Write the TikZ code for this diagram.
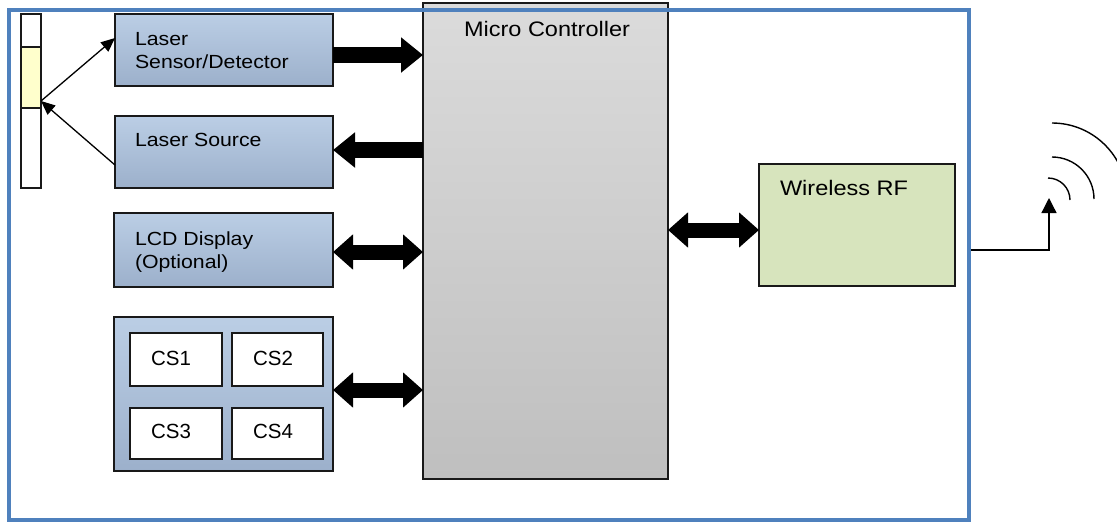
\documentclass[tikz,border=0pt]{standalone}
\usepackage{fontspec}
\setmainfont{Liberation Sans}[FakeStretch=1.12]
\newfontfamily\csfont{Liberation Sans}
\usetikzlibrary{arrows.meta}
\definecolor{frameblue}{RGB}{79,129,189}
\definecolor{boxtop}{RGB}{187,206,229}
\definecolor{boxbot}{RGB}{156,176,203}
\definecolor{mctop}{RGB}{219,219,219}
\definecolor{mcbot}{RGB}{191,191,191}
\definecolor{rfgreen}{RGB}{215,228,189}
\definecolor{barYellow}{RGB}{255,255,204}
\tikzset{
  box/.style={draw=black!90, line width=1.6pt, inner sep=0pt, outer sep=0pt, anchor=north west},
  bluebox/.style={box, top color=boxtop, bottom color=boxbot},
  csbox/.style={box, fill=white},
  lbl/.style={inner sep=0pt, outer sep=0pt, anchor=base west, align=left, font=\fontsize{19pt}{23.3pt}\selectfont},
  biglbl/.style={inner sep=0pt, outer sep=0pt, anchor=base, font=\fontsize{21pt}{25pt}\selectfont},
  cslbl/.style={inner sep=0pt, outer sep=0pt, anchor=base, font=\csfont\fontsize{20.5pt}{24pt}\selectfont},
  fat/.style={line width=15.5pt, -{Triangle[width=34pt,length=22pt]}},
  fatboth/.style={line width=15pt, {Triangle[width=34pt,length=20pt]}-{Triangle[width=34pt,length=20pt]}},
  thin/.style={line width=1.3pt, -{Triangle[width=12pt,length=14pt]}},
}
\begin{document}
\begin{tikzpicture}[x=1pt,y=-1pt]
\useasboundingbox (0,0) rectangle (1117,523);
\clip (0,0) rectangle (1117,523);
% Micro controller
\node[box, top color=mctop, bottom color=mcbot, minimum width=245pt, minimum height=476pt] (mc) at (423,3) {};
\node[biglbl] (mctext) at (547,36.5) {Micro Controller};
% left bar
\node[box, fill=white, line width=1.3pt, minimum width=20pt, minimum height=174pt] (bar) at (21,14) {};
\node[box, fill=barYellow, line width=1.3pt, minimum width=20pt, minimum height=61pt] (yel) at (21,47) {};
% blue boxes
\node[bluebox, minimum width=218pt, minimum height=72pt] (sensor) at (115,14) {};
\node[lbl] (sensortext) at (135,68.3) {Laser\\Sensor/Detector};
\node[bluebox, minimum width=218pt, minimum height=72pt] (source) at (115,116) {};
\node[lbl] (sourcetext) at (135,146) {Laser Source};
\node[bluebox, minimum width=219pt, minimum height=74pt] (lcd) at (114,213) {};
\node[lbl] (lcdtext) at (135,268.3) {LCD Display\\(Optional)};
\node[bluebox, minimum width=219pt, minimum height=154pt] (cs) at (114,317) {};
\node[csbox, minimum width=92pt, minimum height=53pt] (cs1) at (130,333) {};
\node[csbox, minimum width=91pt, minimum height=53pt] (cs2) at (232,333) {};
\node[csbox, minimum width=92pt, minimum height=51pt] (cs3) at (130,408) {};
\node[csbox, minimum width=91pt, minimum height=51pt] (cs4) at (232,408) {};
\node[cslbl] (cs1t) at (171,365) {CS1};
\node[cslbl] (cs2t) at (273,365) {CS2};
\node[cslbl] (cs3t) at (171,438) {CS3};
\node[cslbl] (cs4t) at (273,438) {CS4};
% wireless
\node[box, fill=rfgreen, minimum width=196pt, minimum height=122pt] (rf) at (759,164) {};
\node[biglbl, anchor=base west] (rftext) at (780,195.5) {Wireless RF};
% fat arrows
\draw[fat] (sensor.east |- 0,55) -- (mc.west |- 0,55);
\draw[fat] (mc.west |- 0,150) -- (source.east |- 0,150);
\draw[fatboth] (lcd.east |- 0,252) -- (mc.west |- 0,252);
\draw[fatboth] (cs.east |- 0,390) -- (mc.west |- 0,390);
\draw[fatboth] (mc.east |- 0,230) -- (rf.west |- 0,230);
% thin arrows
\draw[thin] (bar.east) -- (sensor.west |- 0,38);
\draw[thin] (source.west |- 0,165) -- (bar.east);
% outer frame
\draw[frameblue, line width=4.5pt] (9,10) rectangle (969,520);
% antenna
\coordinate (antbase) at (971,250);
\coordinate (anttip) at (1049,198);
\draw[line width=1.3pt, -{Triangle[width=15pt,length=15pt]}] (antbase) -| (anttip);
\draw[line width=1.4pt] (1048,178) arc[start angle=-90, end angle=0, radius=22];
\draw[line width=1.4pt] (1052,157) arc[start angle=-90, end angle=0, radius=42];
\draw[line width=1.4pt] (1052,123) arc[start angle=-90, end angle=0, radius=75];
\end{tikzpicture}
\end{document}
